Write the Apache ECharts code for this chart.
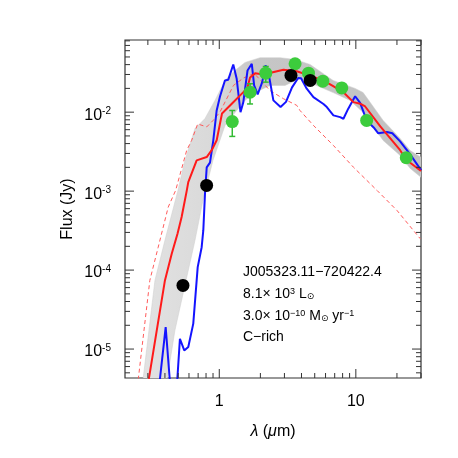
<!DOCTYPE html>
<html>
<head>
<meta charset="utf-8">
<script src="https://cdn.jsdelivr.net/npm/echarts@6/dist/echarts.min.js"></script>
<style>
html, body { margin: 0; padding: 0; background: #fff; }
#main { width: 458px; height: 458px; }
</style>
</head>
<body>
<div id="main"></div>
<script>
// all points are [wavelength (micron), flux (Jy)]
var bestModel = [[0.305,4.2e-6],[0.40,7.4e-5],[0.448,1.6e-4],[0.495,2.9e-4],[0.53,4.7e-4],[0.577,1.0e-3],
  [0.593,1.3e-3],[0.683,2.45e-3],[0.809,2.7e-3],[0.88,3.3e-3],[0.957,4.4e-3],[1.047,9.6e-3],[1.24,0.0129],
  [1.47,0.0173],[1.60,0.020],[1.68,0.0275],[1.83,0.031],[2.10,0.030],[2.95,0.0345],[3.69,0.033],[4.6,0.029],
  [5.78,0.0252],[8.11,0.0179],[9.6,0.0134],[10.75,0.0128],[11.7,0.0118],[15.1,6.6e-3],[21.1,3.3e-3],
  [23.4,2.5e-3],[30,1.8e-3]];
var photosphere = [[0.255,4.1e-6],[0.31,7.4e-5],[0.357,1.95e-4],[0.423,6.3e-4],[0.479,1.02e-3],[0.577,3.27e-3],
  [0.628,4.4e-3],[0.695,7.1e-3],[0.809,6.5e-3],[0.904,7.9e-3],[1.01,0.010],[1.27,0.0218],[1.5,0.027],
  [1.8,0.031],[2.35,0.0188],[2.95,0.0148],[3.69,0.0122],[3.9,0.0105],[4.89,6.8e-3],[6.85,3.79e-3],
  [9.6,2.01e-3],[14.3,1.02e-3],[20,5.7e-4],[29.6,2.5e-4]];
var spectrum = [[0.36,3e-6],[0.405,1.9e-5],[0.44,3e-6],[0.487,3e-6],[0.515,1.35e-5],[0.554,9.6e-6],
  [0.593,1.06e-5],[0.645,2.1e-5],[0.683,7.4e-5],[0.695,1.09e-4],[0.743,1.95e-4],[0.764,3.2e-4],[0.786,9.3e-4],
  [0.809,2.0e-3],[0.855,2.3e-3],[0.904,4.4e-3],[0.957,0.0105],[1.012,0.0158],[1.10,0.0252],[1.164,0.0258],
  [1.266,0.0402],[1.34,0.0267],[1.43,0.010],[1.50,0.0134],[1.61,0.0337],[1.73,0.041],[1.80,0.0218],
  [1.91,0.0168],[2.06,0.0238],[2.18,0.039],[2.29,0.0318],[2.49,0.0141],[2.81,0.0116],[3.08,0.0135],
  [3.41,0.0206],[3.78,0.0271],[3.97,0.0268],[4.37,0.0198],[4.89,0.0155],[5.79,0.0127],[6.13,0.0116],
  [6.85,9.1e-3],[7.67,8.65e-3],[8.11,8.25e-3],[8.78,0.011],[9.88,0.0159],[10.75,0.0131],[12.0,7.85e-3],
  [13.5,6.4e-3],[14.6,5.4e-3],[16.9,5.6e-3],[18.5,5.4e-3],[21.1,4.26e-3],[25.0,2.92e-3],[30.1,1.83e-3]];
// envelope of the grey model grid
var gridUpper = [[0.276,4.0e-6],[0.338,7.4e-5],[0.400,2.38e-4],[0.498,1.02e-3],[0.560,2.45e-3],[0.664,6.2e-3],
  [0.786,8.3e-3],[0.930,0.0141],[1.101,0.0252],[1.304,0.0337],[1.543,0.0426],[1.988,0.049],[2.786,0.049],
  [3.589,0.0465],[4.624,0.0402],[6.82,0.0252],[9.88,0.020],[11.31,0.0177],[15.85,7.85e-3],[21.1,4.65e-3],
  [25.0,3.27e-3],[30.1,2.67e-3]];
var gridLower = [[0.4135,4.0e-6],[0.4735,1.73e-5],[0.560,6.4e-5],[0.664,2.38e-4],[0.759,7.6e-4],[0.899,2.45e-3],
  [1.101,6.76e-3],[1.304,9.9e-3],[1.543,0.0141],[1.827,0.0177],[2.353,0.0218],[3.030,0.0218],[3.905,0.0267],
  [6.82,0.0177],[9.08,0.0141],[11.31,9.9e-3],[15.85,4.38e-3],[21.1,2.83e-3],[25.0,1.94e-3],[30.1,1.49e-3]];
var photGreen = [[1.245,7.6e-3],[1.68,0.0179],[2.19,0.0312],[3.59,0.041],[4.5,0.0312],[5.73,0.0247],
  [7.89,0.0203],[12.0,7.85e-3],[23.4,2.65e-3]];
// [wavelength, low, high]
var greenErr = [[1.245,4.93e-3,0.0105],[1.68,0.0127,0.0229],[2.19,0.024,0.0379]];
var photBlack = [[0.542,6.4e-5],[0.808,1.18e-3],[3.35,0.0292],[4.63,0.0252]];

var xTickVals = [1, 10];
var xTickText = ['1', '10'];
var yTickVals = [1e-5, 1e-4, 1e-3, 1e-2];
var yTickExp = ['-5', '-4', '-3', '-2'];
var minorMult = [2, 3, 4, 5, 6, 7, 8, 9];

var xMin = 0.204, xMax = 30, yMin = 4.3e-6, yMax = 0.082;
var font = 'Liberation Sans';

function minorTicks(decades, lo, hi) {
  var out = [];
  decades.forEach(function (d) {
    minorMult.forEach(function (m) {
      var v = m * d;
      if (v > lo && v <= hi) out.push(v);
    });
  });
  return out;
}
var xMinor = minorTicks([0.1, 1, 10], xMin, xMax);
var yMinor = minorTicks([1e-6, 1e-5, 1e-4, 1e-3, 1e-2], yMin, yMax);

function renderBand(params, api) {
  var pts = gridUpper.map(function (p) { return api.coord(p); });
  gridLower.slice().reverse().forEach(function (p) { pts.push(api.coord(p)); });
  return {
    type: 'polygon',
    shape: { points: pts },
    style: {
      fill: new echarts.graphic.LinearGradient(0, 0, 1, 0, [
        { offset: 0, color: '#e2e2e2' },
        { offset: 0.28, color: '#d8d8d8' },
        { offset: 0.4, color: '#c6c6c6' },
        { offset: 1, color: '#c2c2c2' }
      ]),
      stroke: '#cccccc', lineWidth: 0.5
    }
  };
}

function renderErr(params, api) {
  var a = api.coord([api.value(0), api.value(1)]);
  var b = api.coord([api.value(0), api.value(2)]);
  var st = { stroke: '#33bb33', lineWidth: 1.5 };
  return {
    type: 'group',
    children: [
      { type: 'line', shape: { x1: a[0], y1: a[1], x2: b[0], y2: b[1] }, style: st },
      { type: 'line', shape: { x1: a[0] - 3, y1: a[1], x2: a[0] + 3, y2: a[1] }, style: st },
      { type: 'line', shape: { x1: b[0] - 3, y1: b[1], x2: b[0] + 3, y2: b[1] }, style: st }
    ]
  };
}

// ticks on all four sides of the frame plus tick labels
function renderTicks(params, api) {
  var cs = params.coordSys;
  var left = cs.x, top = cs.y, right = cs.x + cs.width, bottom = cs.y + cs.height;
  var kids = [];
  var st = { stroke: '#333', lineWidth: 1 };
  function seg(x1, y1, x2, y2) {
    kids.push({ type: 'line', shape: { x1: x1, y1: y1, x2: x2, y2: y2 }, style: st });
  }
  function xt(v, len) {
    var x = api.coord([v, yMin])[0];
    seg(x, bottom, x, bottom - len);
    seg(x, top, x, top + len);
  }
  function yt(v, len) {
    var y = api.coord([xMin, v])[1];
    seg(left, y, left + len, y);
    seg(right, y, right - len, y);
  }
  xMinor.forEach(function (v) { xt(v, 5); });
  yMinor.forEach(function (v) { yt(v, 5); });
  xTickVals.forEach(function (v, i) {
    xt(v, 9);
    kids.push({
      type: 'text', x: api.coord([v, yMin])[0], y: bottom + 24,
      style: { text: xTickText[i], font: '16px ' + font, fill: '#000',
        align: 'center', verticalAlign: 'middle', textAlign: 'center', textVerticalAlign: 'middle' }
    });
  });
  yTickVals.forEach(function (v, i) {
    yt(v, 9);
    kids.push({
      type: 'text', x: left - 14, y: api.coord([xMin, v])[1] + 3,
      style: {
        text: '{b|10}{s|' + yTickExp[i] + '}', fill: '#000',
        align: 'right', verticalAlign: 'middle', textAlign: 'right', textVerticalAlign: 'middle',
        rich: {
          b: { fontSize: 16, fontFamily: font, lineHeight: 18, fill: '#000' },
          s: { fontSize: 10, fontFamily: font, verticalAlign: 'top', lineHeight: 10, fill: '#000' }
        }
      }
    });
  });
  return { type: 'group', children: kids };
}

var myChart = echarts.init(document.getElementById('main'));
var annoRich = {
  s: { fontSize: 9, fontFamily: font, verticalAlign: 'top', lineHeight: 9, fill: '#000' },
  d: { fontSize: 9, fontFamily: 'DejaVu Sans', verticalAlign: 'bottom', lineHeight: 9, fill: '#000' }
};
function anno(txt, y) {
  return {
    type: 'text', left: 243, top: y,
    style: { text: txt, font: '14px ' + font, fill: '#000', rich: annoRich }
  };
}

myChart.setOption({
  animation: false,
  grid: { left: 125, top: 40, right: 37, bottom: 80, show: true, borderColor: '#333', borderWidth: 1.2 },
  xAxis: {
    type: 'log', min: xMin, max: xMax,
    name: '{i|λ} ({i|μ}m)', nameLocation: 'middle', nameGap: 46,
    nameTextStyle: {
      fontSize: 16, fontFamily: font, color: '#000',
      rich: { i: { fontSize: 16, fontFamily: font, fontStyle: 'italic', color: '#000' } }
    },
    axisLine: { show: false }, axisTick: { show: false }, axisLabel: { show: false }, splitLine: { show: false }
  },
  yAxis: {
    type: 'log', min: yMin, max: yMax,
    name: 'Flux (Jy)', nameLocation: 'middle', nameGap: 49,
    nameTextStyle: { fontSize: 16, fontFamily: font, color: '#000' },
    axisLine: { show: false }, axisTick: { show: false }, axisLabel: { show: false }, splitLine: { show: false }
  },
  graphic: [
    anno('J005323.11\u2212720422.4', 265),
    anno('8.1\u00d7 10{s|3} L{d|\u2299}', 287),
    anno('3.0\u00d7 10{s|\u221210} M{d|\u2299} yr{s|\u22121}', 309),
    anno('C\u2212rich', 330)
  ],
  series: [
    { type: 'custom', name: 'grid', renderItem: renderBand, data: [[1, 1e-3]], clip: true, silent: true, z: 1 },
    {
      type: 'line', name: 'photosphere', data: photosphere, symbol: 'none', z: 2,
      lineStyle: { color: '#ff5a5a', width: 1, type: [4, 3] }
    },
    {
      type: 'line', name: 'spectrum', data: spectrum, symbol: 'none', z: 3,
      lineStyle: { color: '#1414ff', width: 2 }
    },
    {
      type: 'line', name: 'best fit', data: bestModel, symbol: 'none', z: 4,
      lineStyle: { color: '#ff1a1a', width: 2 }
    },
    {
      type: 'custom', name: 'errors', renderItem: renderErr, data: greenErr,
      encode: { x: 0, y: [1, 2] }, silent: true, z: 5
    },
    {
      type: 'scatter', name: 'photometry', data: photGreen, symbolSize: 13, z: 6,
      itemStyle: { color: '#3ccc3c', opacity: 1 }
    },
    {
      type: 'scatter', name: 'other', data: photBlack, symbolSize: 13, z: 6,
      itemStyle: { color: '#000', opacity: 1 }
    },
    { type: 'custom', name: 'ticks', renderItem: renderTicks, data: [[1, 1e-3]], silent: true, z: 10 }
  ]
});
</script>
</body>
</html>
